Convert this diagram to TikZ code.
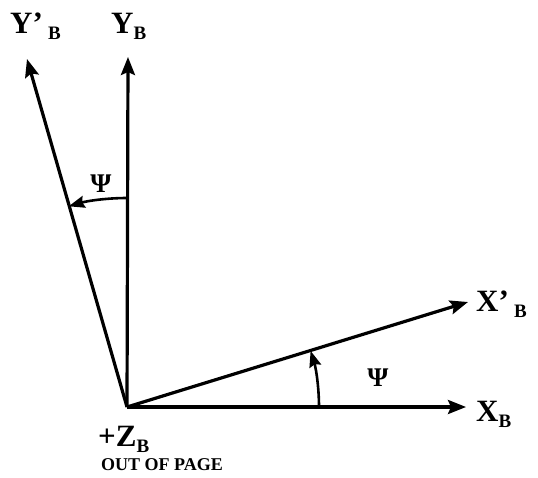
\documentclass[tikz,border=0pt]{standalone}
\usepackage{fontspec}
\setmainfont{Liberation Serif}
\usetikzlibrary{arrows.meta}
\newcommand{\subB}{\raisebox{-0.2em}{\fontsize{19}{19}\selectfont B}}
\begin{document}
\begin{tikzpicture}[x=1pt,y=-1pt,
  axis/.style={line width=3.2pt,-{Stealth[length=18pt,width=14pt,inset=3pt]}},
  ang/.style={line width=2.6pt,-{Stealth[length=16pt,width=12pt,inset=2pt]}},
  lab/.style={font=\bfseries\fontsize{31}{31}\selectfont,inner sep=0pt,anchor=base west},
  psi/.style={font=\bfseries\fontsize{27}{27}\selectfont,inner sep=0pt},
  small/.style={font=\bfseries\fontsize{18}{18}\selectfont,inner sep=0pt,anchor=base west}]
\useasboundingbox (0,0) rectangle (538,477);
\coordinate (O) at (127,407);
\coordinate (xb) at (466,407);
\coordinate (yb) at (128,57);
\coordinate (xp) at (468,302);
\coordinate (yp) at (27,59);
\draw[axis] (O) -- (xb);
\draw[axis] (O) -- (yb);
\draw[axis] (O) -- (xp);
\draw[axis] (O) -- (yp);
\draw[ang] ([yshift=209pt]O) arc[start angle=90,end angle=106.2,radius=209pt];
\draw[ang] ([xshift=192pt]O) arc[start angle=0,end angle=17,radius=192pt];
\node[lab] (lyp) at (10,33) {Y’\,\subB};
\node[lab] (lyb) at (111,33) {Y\subB};
\node[lab] (lxp) at (476,311) {X’\,\subB};
\node[lab] (lxb) at (476,421) {X\subB};
\node[lab] (lz) at (98,446) {+Z\subB};
\node[small] (lo) at (101,470) {OUT OF PAGE};
\node[psi] (p1) at (101,184) {Ψ};
\node[psi] (p2) at (378,378) {Ψ};
\end{tikzpicture}
\end{document}
